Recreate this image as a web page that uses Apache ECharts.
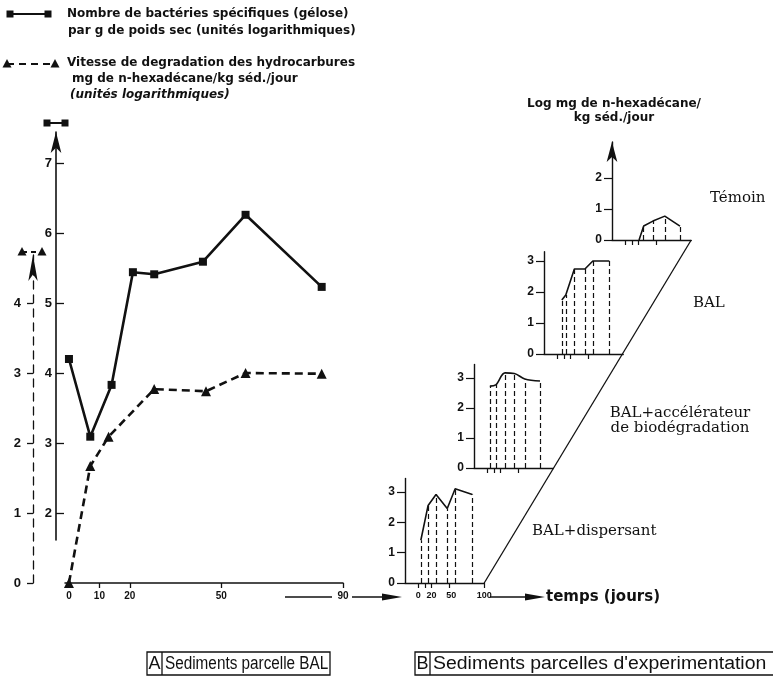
<!DOCTYPE html>
<html lang="fr">
<head>
<meta charset="UTF-8">
<title>Sédiments BAL</title>
<script src="https://cdn.jsdelivr.net/npm/echarts@6/dist/echarts.min.js"></script>
<style>
    html, body { margin: 0; background: #fff; }
    #main { width: 773px; height: 682px; }
</style>
</head>
<body>
<div id="main"></div>
<script>
// ---- panneau A : parcelle BAL ----
var joursBact = [0, 7, 14, 21, 28, 44, 58, 83];
var bacteries = [4.2, 3.09, 3.83, 5.44, 5.41, 5.59, 6.26, 5.23];
var joursDeg = [0, 7, 13, 28, 45, 58, 83];
var degradation = [0, 1.67, 2.09, 2.77, 2.74, 3.0, 2.99];
var ticksJoursA = [0, 10, 20, 50, 90];
var ticksBact = [2, 3, 4, 5, 6, 7];
var ticksDeg = [0, 1, 2, 3, 4];

// ---- panneau B : parcelles d'experimentation ----
var joursTemoin = [21, 28, 42, 60, 83];
var temoin = [0, 0.45, 0.61, 0.77, 0.45];
var joursBAL = [7, 13, 26, 42, 54, 79];
var bal = [1.74, 1.9, 2.74, 2.74, 3.0, 3.0];
var joursAcc = [4, 13, 27, 41, 57, 80];
var accelerateur = [2.73, 2.77, 3.17, 3.15, 2.97, 2.9];
var joursDisp = [4, 15, 27, 44, 56, 82];
var dispersant = [1.41, 2.56, 2.92, 2.46, 3.11, 2.92];
var ticksJoursB = [0, 10, 20, 47];
var labelsJoursB = [0, 20, 50, 100];
var ticksLogB = [0, 1, 2, 3];

var noir = '#111';
var police = '"Liberation Sans", Arial, sans-serif';

function paires(x, y) {
    var out = [];
    for (var i = 0; i < x.length; i++) out.push([x[i], y[i]]);
    return out;
}

function verticales(jours, vals) {
    var out = [];
    for (var i = 0; i < jours.length; i++) {
        if (vals[i] > 0) out.push([{coord: [jours[i], 0]}, {coord: [jours[i], vals[i]]}]);
    }
    return out;
}

// petits graphes en escalier (haut -> bas)
var cadres = [
    {left: 612, base: 240, unit: 31, max: 3.16, ticks: [0, 1, 2], fleche: true},
    {left: 544, base: 354, unit: 31, max: 3.3, ticks: ticksLogB},
    {left: 474, base: 468, unit: 30, max: 3.45, ticks: ticksLogB},
    {left: 405, base: 583, unit: 30.3, max: 3.45, ticks: ticksLogB, labels: true}
];
var largeurB = 79.2;
var seriesB = [
    {x: joursTemoin, y: temoin},
    {x: joursBAL, y: bal},
    {x: joursAcc, y: accelerateur, smooth: true},
    {x: joursDisp, y: dispersant}
];

var grids = [
    {left: 65, top: 255, width: 278, height: 328, outerBoundsMode: 'none'},
    {left: 65, top: 132, width: 278, height: 408, outerBoundsMode: 'none'}
];
var xAxes = [
    {
        type: 'value', gridIndex: 0, min: -1.3, max: 90,
        axisLine: {onZero: false, lineStyle: {color: noir, width: 1.5}},
        axisTick: {customValues: ticksJoursA, length: 5, lineStyle: {color: noir, width: 1.3}},
        axisLabel: {customValues: ticksJoursA, color: noir, fontSize: 10, fontWeight: 'bold', fontFamily: police, margin: 8},
        splitLine: {show: false}
    },
    {type: 'value', gridIndex: 1, min: -1.3, max: 90, show: false}
];
var yAxes = [
    {
        type: 'value', gridIndex: 0, min: 0, max: 4.686, position: 'left', offset: 32,
        axisLine: {show: true, onZero: false, symbol: ['none', 'arrow'], symbolSize: [7, 26],
            lineStyle: {color: noir, width: 1.3, type: [8, 6]}},
        axisTick: {show: true, customValues: ticksDeg, length: 6, lineStyle: {color: noir, width: 1.3}},
        axisLabel: {customValues: ticksDeg, color: noir, fontSize: 13, fontWeight: 'bold', fontFamily: police, margin: 12},
        splitLine: {show: false}
    },
    {
        type: 'value', gridIndex: 1, min: 1.614, max: 7.443, position: 'left', offset: 9,
        axisLine: {show: true, onZero: false, symbol: ['none', 'arrow'], symbolSize: [8, 21],
            lineStyle: {color: noir, width: 1.6}},
        axisTick: {show: true, inside: true, customValues: ticksBact, length: 8, lineStyle: {color: noir, width: 1.3}},
        axisLabel: {customValues: ticksBact, color: noir, fontSize: 13, fontWeight: 'bold', fontFamily: police, margin: 4},
        splitLine: {show: false}
    }
];
var series = [
    {
        type: 'line', xAxisIndex: 0, yAxisIndex: 0, data: paires(joursDeg, degradation),
        symbol: 'triangle', symbolSize: 10, itemStyle: {color: noir},
        lineStyle: {color: noir, width: 2.6, type: [8, 5]}
    },
    {
        type: 'line', xAxisIndex: 1, yAxisIndex: 1, data: paires(joursBact, bacteries),
        symbol: 'rect', symbolSize: 8, itemStyle: {color: noir},
        lineStyle: {color: noir, width: 2.6}
    }
];

cadres.forEach(function (c, k) {
    var g = grids.length;
    grids.push({left: c.left, top: c.base - c.max * c.unit, width: largeurB,
        height: c.max * c.unit, outerBoundsMode: 'none'});
    var ticksX = c.labels ? ticksJoursB.concat([100]) : ticksJoursB;
    xAxes.push({
        type: 'value', gridIndex: g, min: -20, max: 100,
        axisLine: {onZero: false, lineStyle: {color: noir, width: 1.4}},
        axisTick: {customValues: ticksX, length: 5, lineStyle: {color: noir, width: 1.2}},
        axisLabel: {show: !!c.labels, customValues: labelsJoursB, color: noir, fontSize: 9,
            fontWeight: 'bold', fontFamily: police, margin: 8},
        splitLine: {show: false}
    });
    yAxes.push({
        type: 'value', gridIndex: g, min: 0, max: c.max,
        axisLine: {show: true, onZero: false, symbol: c.fleche ? ['none', 'arrow'] : 'none', symbolSize: [8, 20],
            lineStyle: {color: noir, width: 1.4}},
        axisTick: {show: true, customValues: c.ticks, length: 8, lineStyle: {color: noir, width: 1.2}},
        axisLabel: {customValues: c.ticks, color: noir, fontSize: 12, fontWeight: 'bold', fontFamily: police, margin: 10},
        splitLine: {show: false}
    });
    var s = seriesB[k];
    series.push({
        type: 'line', xAxisIndex: g, yAxisIndex: g, data: paires(s.x, s.y),
        smooth: s.smooth ? 0.35 : false, symbol: 'none',
        lineStyle: {color: noir, width: 1.6},
        markLine: {
            silent: true, symbol: ['none', 'none'], label: {show: false},
            lineStyle: {color: noir, width: 1.2, type: [5, 3]},
            data: verticales(s.x, s.y)
        }
    });
});

// ---- décor : légendes, flèches, cadres ----
function texte(x, y, txt, font, opts) {
    opts = opts || {};
    return {
        type: 'text', x: x, y: y, scaleX: opts.sx || 1, silent: true,
        style: {text: txt, font: font, fill: noir, align: opts.align || 'left', verticalAlign: 'middle'}
    };
}
function ligne(x1, y1, x2, y2, w, dash) {
    return {type: 'line', silent: true, shape: {x1: x1, y1: y1, x2: x2, y2: y2},
        style: {stroke: noir, lineWidth: w || 1.5, lineDash: dash || null}};
}
function carre(cx, cy, s) {
    return {type: 'rect', silent: true, shape: {x: cx - s / 2, y: cy - s / 2, width: s, height: s}, style: {fill: noir}};
}
function triangle(cx, cy, s) {
    return {type: 'polygon', silent: true,
        shape: {points: [[cx, cy - s * 0.55], [cx - s / 2, cy + s * 0.4], [cx + s / 2, cy + s * 0.4]]},
        style: {fill: noir}};
}
function fleche(x1, x2, y) {
    return [ligne(x1, y, x2 - 18, y, 1.5),
        {type: 'polygon', silent: true, shape: {points: [[x2 - 20, y - 3.5], [x2, y], [x2 - 20, y + 3.5]]}, style: {fill: noir}}];
}

var legendeFont = 'bold 12px "DejaVu Sans", sans-serif';
var serifFont = '15px "DejaVu Serif", serif';
var bas = '18px "Liberation Sans", Arial, sans-serif';

var decor = [
    ligne(10, 14, 48, 14, 2), carre(10, 14, 7), carre(48, 14, 7),
    texte(67, 14, 'Nombre de bactéries spécifiques (gélose)', legendeFont),
    texte(68, 31, 'par g de poids sec (unités logarithmiques)', legendeFont),
    ligne(7, 64, 55, 64, 2, [7, 5]), triangle(7, 64, 9), triangle(55, 64, 9),
    texte(67, 63, 'Vitesse de degradation des hydrocarbures', legendeFont),
    texte(72, 79, 'mg de n-hexadécane/kg séd./jour', legendeFont),
    texte(70, 95, '(unités logarithmiques)', 'italic ' + legendeFont),
    // repères au-dessus des axes
    ligne(47, 123, 65, 123, 2), carre(47, 123, 7), carre(65, 123, 7),
    ligne(22, 252, 42, 252, 2, [5, 4]), triangle(22, 252, 9), triangle(42, 252, 9),
    // flèche du temps
    ligne(285, 597, 332, 597, 1.5)
].concat(fleche(352, 402, 597), fleche(490, 545, 597), [
    texte(546, 597, 'temps (jours)', 'bold 15px "DejaVu Sans", sans-serif'),
    // diagonale reliant les graphes
    ligne(cadres[3].left + largeurB, cadres[3].base, cadres[0].left + largeurB, cadres[0].base, 1.3),
    texte(614, 104, 'Log mg de n-hexadécane/', legendeFont, {align: 'center'}),
    texte(614, 118, 'kg séd./jour', legendeFont, {align: 'center'}),
    texte(710, 198, 'Témoin', serifFont),
    texte(693, 303, 'BAL', serifFont),
    texte(680, 413, 'BAL+accélérateur', serifFont, {align: 'center'}),
    texte(680, 428, 'de biodégradation', serifFont, {align: 'center'}),
    texte(532, 531, 'BAL+dispersant', serifFont),
    // titres des panneaux
    {type: 'rect', silent: true, shape: {x: 147, y: 652, width: 183, height: 23}, style: {fill: 'none', stroke: noir, lineWidth: 1.3}},
    ligne(162, 652, 162, 675, 1.3),
    texte(154.5, 664, 'A', bas, {align: 'center'}),
    texte(165, 664, 'Sediments parcelle BAL', bas, {sx: 0.85}),
    {type: 'rect', silent: true, shape: {x: 415, y: 652, width: 360, height: 23}, style: {fill: 'none', stroke: noir, lineWidth: 1.3}},
    ligne(430, 652, 430, 675, 1.3),
    texte(422.5, 664, 'B', bas, {align: 'center'}),
    texte(433, 664, "Sediments parcelles d'experimentation", bas, {sx: 1.08})
]);

var myChart = echarts.init(document.getElementById('main'));
myChart.setOption({
    animation: false,
    backgroundColor: '#fff',
    grid: grids,
    xAxis: xAxes,
    yAxis: yAxes,
    series: series,
    graphic: decor
});
</script>
</body>
</html>
